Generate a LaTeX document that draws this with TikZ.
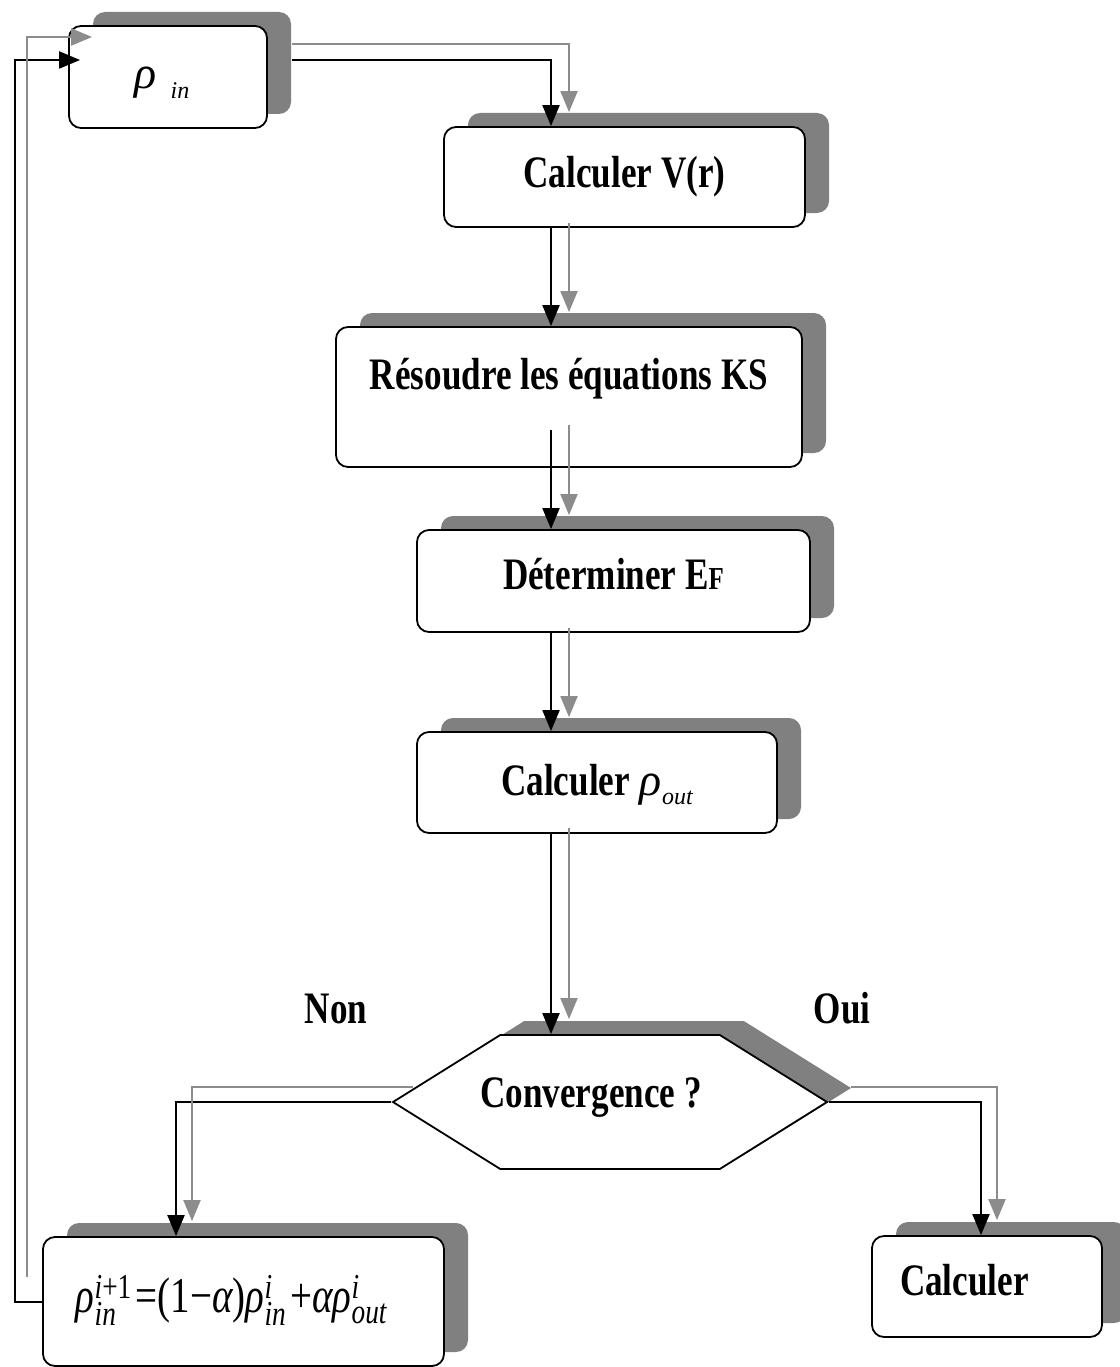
\documentclass[tikz,border=0pt]{standalone}
\usepackage{amsmath}
\usepackage{fontspec}
\setmainfont{Liberation Serif}
\newfontfamily\boxfont{Liberation Serif}[FakeStretch=0.78]
\usetikzlibrary{arrows.meta,shadows,shapes.symbols}

\newcommand\gr[1]{\text{\itshape #1}}
\newcommand\tx[1]{\text{\upshape #1}}

\tikzset{
  flowbox/.style={draw, line width=1.8pt, rounded corners=12pt, fill=white,
    drop shadow={shadow xshift=24pt, shadow yshift=14pt, fill=black!50, opacity=1},
    font=\boxfont\bfseries\fontsize{45}{50}\selectfont, inner sep=0pt},
  blk/.style={line width=2pt, -{Triangle[length=21pt,width=17pt]}},
  gry/.style={line width=2pt, black!45, -{Triangle[length=21pt,width=17pt]}},
  lbl/.style={font=\boxfont\bfseries\fontsize{45}{50}\selectfont, text height=30pt, text depth=0pt, inner sep=0pt},
}

\begin{document}
\begin{tikzpicture}[x=1pt,y=-1pt]
\useasboundingbox (0,0) rectangle (1119,1367);

% boxes
\node[flowbox, minimum width=198pt, minimum height=102pt, text height=30pt, text depth=6pt] (rin) at (168,77)
  {{\normalfont\itshape\fontsize{46}{50}\selectfont ρ\hspace{14pt}\raisebox{-10pt}{\fontsize{24}{26}\selectfont in}}\hspace*{12pt}};
\node[flowbox, minimum width=361pt, minimum height=100pt, text height=30pt, text depth=10pt] (vr) at (624.5,177) {Calculer V(r)};
\node[flowbox, minimum width=466pt, minimum height=140pt, text height=30pt, text depth=46pt] (ks) at (569,397) {Résoudre les équations KS};
\node[flowbox, minimum width=393pt, minimum height=102pt, text height=30pt, text depth=14pt] (ef) at (613.5,581)
  {Déterminer E{\fontsize{32}{34}\selectfont F}};
\node[flowbox, minimum width=360pt, minimum height=101pt, text height=30pt, text depth=5pt] (rout) at (597,782.5)
  {Calculer\hspace{10pt}{\normalfont\itshape\fontsize{46}{50}\selectfont ρ\raisebox{-9pt}{\fontsize{24}{26}\selectfont out}}};
\node[flowbox, shape=signal, signal to=west and east, signal pointer angle=64, sharp corners,
  minimum width=434pt, minimum height=134pt, text height=30pt, text depth=20pt] (conv) at (610,1102)
  {\hspace*{-38pt}Convergence ?};
\node[flowbox, minimum width=401pt, minimum height=129pt, text height=35pt, text depth=14pt,
  font=\boxfont\fontsize{50}{54}\selectfont] (mix) at (243.5,1301.5)
  {$\gr{ρ}^{\gr{i}\tx{+1}}_{\gr{in}}\,\tx{=(1−}\gr{α}\tx{)}\gr{ρ}^{\gr{i}}_{\gr{in}}\,\tx{+}\gr{α}\gr{ρ}^{\gr{i}}_{\gr{out}}$\hspace*{24pt}};
\node[flowbox, minimum width=230pt, minimum height=101pt, text height=30pt, text depth=13pt,
  text width=174pt, align=left] (calc) at (987,1286.5) {Calculer};

\node[lbl] (non) at (336,1008) {Non};
\node[lbl] (oui) at (842,1008) {Oui};

\coordinate (spine) at (551,0);
\coordinate (gspine) at (569,0);
\coordinate (loop) at (15,0);
\coordinate (gloop) at (27,0);

% main chain
\draw[blk] ([shift={(24pt,17pt)}]rin.east) -| (vr.north -| spine);
\draw[gry] ([shift={(24pt,33pt)}]rin.east) -| ([yshift=14pt]vr.north -| gspine);
\draw[blk] (vr.south -| spine) -- (ks.north -| spine);
\draw[gry] ([yshift=5pt]vr.south -| gspine) -- ([yshift=14pt]ks.north -| gspine);
\draw[blk] ([yshift=38pt]ks.south -| spine) -- (ef.north -| spine);
\draw[gry] ([yshift=43pt]ks.south -| gspine) -- ([yshift=14pt]ef.north -| gspine);
\draw[blk] (ef.south -| spine) -- (rout.north -| spine);
\draw[gry] ([yshift=5pt]ef.south -| gspine) -- ([yshift=14pt]rout.north -| gspine);
\draw[blk] (rout.south -| spine) -- (conv.north -| spine);
\draw[gry] ([yshift=6pt]rout.south -| gspine) -- ([yshift=15pt]conv.north -| gspine);

% Non / Oui
\draw[blk] (conv.west) -| ([xshift=-67.5pt]mix.north);
\draw[gry] ([shift={(22pt,15pt)}]conv.west) -| ([shift={(-51.5pt,15pt)}]mix.north);
\draw[blk] (conv.east) -| ([xshift=-6pt]calc.north);
\draw[gry] ([shift={(22pt,15pt)}]conv.east) -| ([shift={(10pt,15pt)}]calc.north);

% back to rho_in
\draw[blk] (mix.west) -- (mix.west -| loop) |- ([shift={(12pt,17pt)}]rin.west);
\draw[gry] ([yshift=25pt]mix.west -| gloop) |- ([shift={(24pt,40pt)}]rin.west);
\end{tikzpicture}
\end{document}
